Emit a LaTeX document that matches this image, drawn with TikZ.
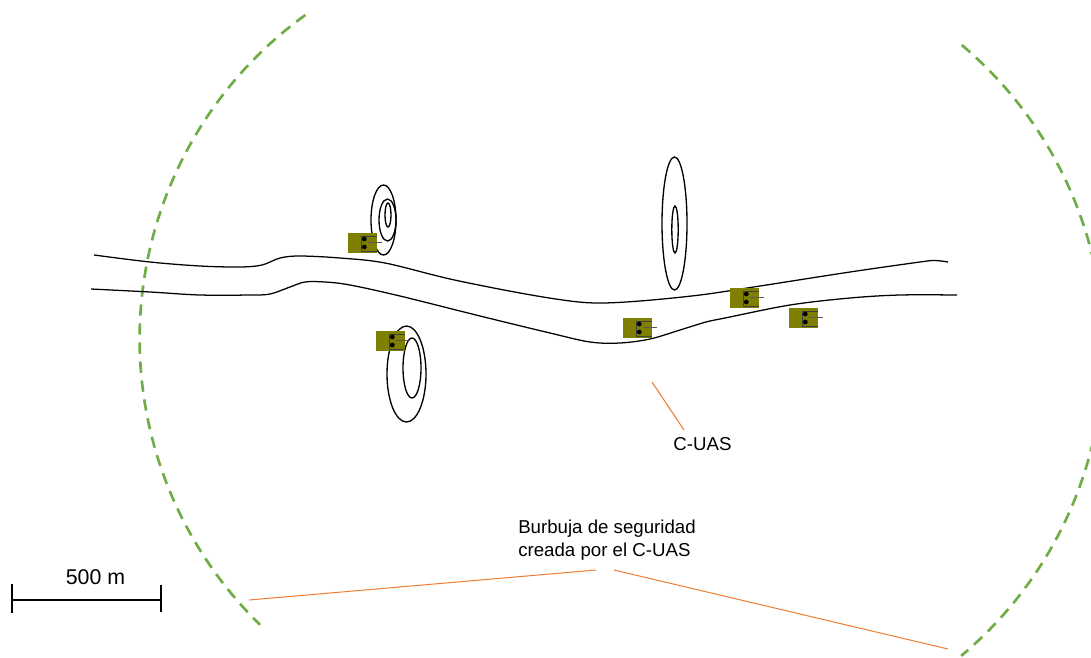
\documentclass[tikz,border=0pt]{standalone}
\usepackage{fontspec}
\setmainfont{Liberation Sans}
\usetikzlibrary{calc}
\definecolor{bubble}{HTML}{70AD47}
\definecolor{leader}{HTML}{ED7D31}
\definecolor{vehicle}{HTML}{808000}
\tikzset{
  road/.style={line width=0.95pt,black},
  ring/.style={line width=1pt,black},
  bubbleline/.style={bubble,line width=2pt,dash pattern=on 8.5pt off 5.8pt},
  leaderline/.style={leader,line width=0.75pt},
  lbl/.style={font=\fontsize{14}{17}\selectfont,inner sep=0pt,text=black},
  lblbig/.style={font=\fontsize{16}{19}\selectfont,inner sep=0pt,text=black},
  vehiclebox/.style={fill=vehicle,minimum width=21.75pt,minimum height=15pt,inner sep=0pt,draw=none},
}
\newcommand{\cuasunit}[3]{%
  \node[vehiclebox] (#1) at (#2,#3) {};
  \draw[black!75,line width=0.5pt] ($(#1.center)+(14,-7)$) -- ($(#1.center)+(-1.5,-7)$) -- ($(#1.center)+(-1.5,8)$) -- ($(#1.center)+(14,8)$);
  \draw[black!65,line width=0.4pt] ($(#1.center)+(5,-1)$) -- ($(#1.center)+(19,-1)$);
  \fill[black] ($(#1.center)+(1.8,-4)$) circle (2.4);
  \fill[black] ($(#1.center)+(1.8,4)$) circle (2.4);
}
\begin{document}
\begin{tikzpicture}[x=0.75pt,y=-0.75pt]
\useasboundingbox (0,0) rectangle (1091,657);
% bubble
\begin{scope}
\clip (0,0) rectangle (1091,657);
\coordinate (cl) at (539.4,339);
\coordinate (cr) at (704.7,350);
\draw[bubbleline] ($(cl)+(-234,-324)$) arc[start angle=234.2,end angle=134.3,radius=399.4];
\draw[bubbleline] ($(cr)+(257,-305)$) arc[start angle=-49.9,end angle=50,radius=399];
\end{scope}
% rings
\draw[ring] (383.5,220) ellipse [x radius=12.5,y radius=35];
\draw[ring] (387.5,220) ellipse [x radius=8.5,y radius=21];
\draw[ring] (388,215) ellipse [x radius=3,y radius=12];
\draw[ring] (674.5,223.5) ellipse [x radius=12.5,y radius=66.5];
\draw[ring] (675,229.5) ellipse [x radius=3.2,y radius=23.5];
\draw[ring] (406.5,374) ellipse [x radius=19.5,y radius=48];
\draw[ring] (412,368) ellipse [x radius=9,y radius=30];
% roads
\draw[road] plot[smooth,tension=0.55] coordinates {(94,255) (150,262) (200,266) (240,267) (262,265) (280,258) (300,256) (340,258) (385,263) (450,279) (520,293) (570,301) (600,303) (640,301) (700,295) (760,286) (850,272) (920,262) (935,260.5) (948,262)};
\draw[road] plot[smooth,tension=0.55] coordinates {(91,289) (150,292) (200,295) (250,295) (270,294) (290,287) (305,282) (325,282) (350,285) (400,296) (480,316) (550,333) (590,342) (620,343) (650,339) (680,330) (706,322) (725,318) (790,305) (850,298) (900,295) (957,295)};
% vehicles
\cuasunit{u1}{362.5}{243}
\cuasunit{u2}{390.5}{341}
\cuasunit{u3}{637.5}{328}
\cuasunit{u4}{744.5}{298}
\cuasunit{u5}{803.5}{318}
% labels
\node[lbl] (cuas) at (702.5,444) {C-UAS};
\node[lbl,align=left,anchor=north west] (burb) at (518,520) {Burbuja de seguridad\\creada por el C-UAS};
\node[lblbig] (scale) at (95.5,577) {500 m};
% leaders
\coordinate (a1) at (652,382); \coordinate (a2) at (684,430);
\coordinate (b0) at (249,600); \coordinate (b1) at (596,570);
\coordinate (c0) at (614,570); \coordinate (c1) at (948,649);
\draw[leaderline] (a1) -- (a2);
\draw[leaderline] (b0) -- (b1);
\draw[leaderline] (c0) -- (c1);
% scale
\coordinate (s1) at (12,600); \coordinate (s2) at (161,600);
\draw[black,line width=1.1pt] (s1) -- (s2);
\draw[black,line width=1.1pt] ($(s1)+(0,-16)$) -- ($(s1)+(0,13)$);
\draw[black,line width=1.1pt] ($(s2)+(0,-15)$) -- ($(s2)+(0,12)$);
\end{tikzpicture}
\end{document}
